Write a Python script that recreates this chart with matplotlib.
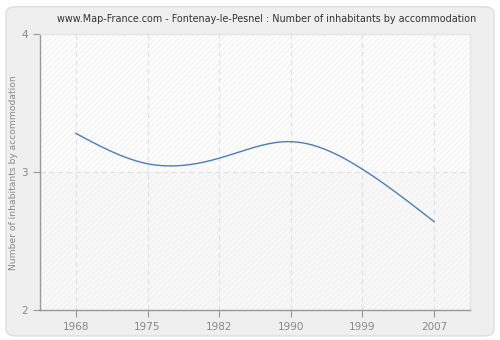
import numpy as np
import matplotlib.pyplot as plt
from matplotlib.patches import FancyBboxPatch

# values
years = ['1968', '1975', '1982', '1990', '1999', '2007']
inhab = [3.28, 3.06, 3.10, 3.22, 3.02, 2.64]
yticks = [2, 3, 4]


def natural_spline(x, y, n=300):
    # natural cubic spline through the points, just for a smooth line
    x = np.asarray(x, float)
    y = np.asarray(y, float)
    k = len(x)
    h = np.diff(x)
    A = np.zeros((k, k))
    b = np.zeros(k)
    A[0, 0] = A[-1, -1] = 1
    for i in range(1, k - 1):
        A[i, i - 1] = h[i - 1]
        A[i, i] = 2 * (h[i - 1] + h[i])
        A[i, i + 1] = h[i]
        b[i] = 6 * ((y[i + 1] - y[i]) / h[i] - (y[i] - y[i - 1]) / h[i - 1])
    m = np.linalg.solve(A, b)
    xs = np.linspace(x[0], x[-1], n)
    idx = np.clip(np.searchsorted(x, xs) - 1, 0, k - 2)
    t0 = x[idx]
    t1 = x[idx + 1]
    hh = t1 - t0
    ys = (m[idx] * (t1 - xs) ** 3 / (6 * hh) + m[idx + 1] * (xs - t0) ** 3 / (6 * hh)
          + (y[idx] / hh - m[idx] * hh / 6) * (t1 - xs)
          + (y[idx + 1] / hh - m[idx + 1] * hh / 6) * (xs - t0))
    return xs, ys


fig = plt.figure(figsize=(5, 3.4), dpi=100, facecolor='white')
bg = FancyBboxPatch((0.012, 0.012), 0.976, 0.968, boxstyle='round,pad=0,rounding_size=0.02',
                    transform=fig.transFigure, facecolor='#efefef', edgecolor='#dddddd',
                    linewidth=1, zorder=-10)
fig.patches.append(bg)

ax = fig.add_axes([0.08, 0.0882, 0.86, 0.8118])
ax.set_facecolor('#fafafa')
xpos = np.arange(len(years))
ax.set_xlim(-0.5, len(years) - 0.5)
ax.set_ylim(2, 4)

plt.rcParams['hatch.linewidth'] = 0.5
ax.axhspan(3, 4, facecolor='#fdfdfd', edgecolor='#ececec', hatch='//////', linewidth=0, zorder=0)
ax.axhspan(2, 3, facecolor='#f8f8f8', edgecolor='#efefef', hatch='//////', linewidth=0, zorder=0)

for xp in xpos:
    ax.axvline(xp, color='#e2e2e2', linestyle=(0, (4, 3)), linewidth=0.9, zorder=1)
ax.axhline(3, color='#e2e2e2', linestyle=(0, (4, 3)), linewidth=0.9, zorder=1)

xs, ys = natural_spline(xpos, inhab)
ax.plot(xs, ys, color='#4a7ebb', linewidth=1.0, zorder=3)

ax.set_xticks(xpos)
ax.set_xticklabels(years)
ax.set_yticks(yticks)
ax.tick_params(colors='#999999', labelcolor='#888888', labelsize=7.5, length=5, width=0.8)
for s in ['left', 'bottom']:
    ax.spines[s].set_color('#999999')
    ax.spines[s].set_linewidth(1)
for s in ['top', 'right']:
    ax.spines[s].set_color('#e4e4e4')
    ax.spines[s].set_linewidth(1)

fig.text(0.027, 0.491, 'Number of inhabitants by accommodation', rotation=90,
         ha='center', va='center', color='#888888', fontsize=6.6)
fig.text(0.534, 0.945, 'www.Map-France.com - Fontenay-le-Pesnel : Number of inhabitants by accommodation',
         ha='center', va='center', fontsize=6.9, color='#333333')

fig.savefig('out.png', dpi=100, facecolor=fig.get_facecolor())
